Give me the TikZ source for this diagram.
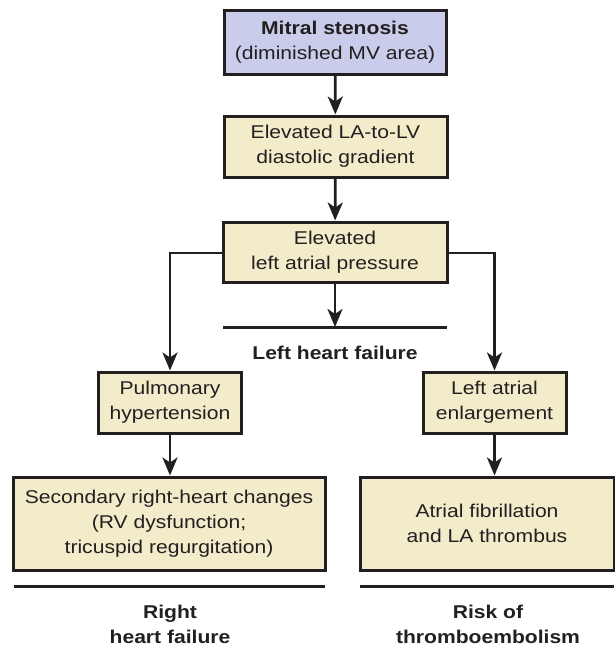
\documentclass[tikz,border=0pt]{standalone}
\usepackage{fontspec}
\setmainfont[FakeStretch=1.14]{Liberation Sans}
\usetikzlibrary{arrows.meta}
\definecolor{ink}{HTML}{231F20}
\definecolor{lav}{HTML}{C9CCEB}
\definecolor{beige}{HTML}{F3ECCB}
\tikzset{
  box/.style={draw=ink, line width=3pt, fill=beige, align=center, inner sep=0pt,
     font=\fontsize{18.5}{25}\selectfont, text=ink},
  topbox/.style={box, fill=lav},
  conn/.style={draw=ink, line width=2.8pt, -{Stealth[length=18pt,width=15pt,inset=5pt]}},
  bar/.style={draw=ink, line width=3pt},
  lbl/.style={align=center, inner sep=0pt, font=\fontsize{18.5}{25}\selectfont\bfseries, text=ink}
}
\begin{document}
\begin{tikzpicture}[x=1pt,y=-1pt]
\useasboundingbox (0,0) rectangle (615,646);
\node[topbox, minimum width=222pt, minimum height=64pt] (ms) at (335,42)
  {\textbf{Mitral stenosis}\\(diminished MV area)};
\node[box, minimum width=223pt, minimum height=61pt] (grad) at (335.5,146.5)
  {Elevated LA-to-LV\\diastolic gradient};
\node[box, minimum width=224pt, minimum height=60pt] (lap) at (335,252)
  {Elevated\\left atrial pressure};
\coordinate (lhfL) at (223,327);
\coordinate (lhfR) at (447,327);
\coordinate (lhfM) at (335,327);
\node[lbl] (lhf) at (335,353) {Left heart failure};
\node[box, minimum width=143pt, minimum height=61pt] (ph) at (170,402.5)
  {Pulmonary\\hypertension};
\node[box, minimum width=143pt, minimum height=61pt] (lae) at (494.5,402.5)
  {Left atrial\\enlargement};
\node[box, minimum width=312pt, minimum height=93pt] (rh) at (169,523.5)
  {Secondary right-heart changes\\(RV dysfunction;\\tricuspid regurgitation)};
\node[box, minimum width=254pt, minimum height=93pt] (af) at (487,523.5)
  {Atrial fibrillation\\and LA thrombus};
\coordinate (rbL) at (14,586);
\coordinate (rbR) at (325,586);
\coordinate (tbL) at (360,586);
\coordinate (tbR) at (614,586);
\node[lbl] (rhf) at (170,624) {Right\\heart failure};
\node[lbl] (rte) at (488,624) {Risk of\\thromboembolism};
% connectors
\draw[conn] (ms) -- (grad);
\draw[conn] (grad) -- (lap);
\draw[conn] (lap.south) -- (lhfM);
\draw[bar] (lhfL) -- (lhfR);
\draw[conn] (lap.west |- 0,253) -| (ph.north);
\draw[conn] (lap.east |- 0,253) -| (lae.north);
\draw[conn] (ph.south) -- (ph.south |- rh.north);
\draw[conn] (lae.south) -- (lae.south |- af.north);
\draw[bar] (rbL) -- (rbR);
\draw[bar] (tbL) -- (tbR);
\end{tikzpicture}
\end{document}
